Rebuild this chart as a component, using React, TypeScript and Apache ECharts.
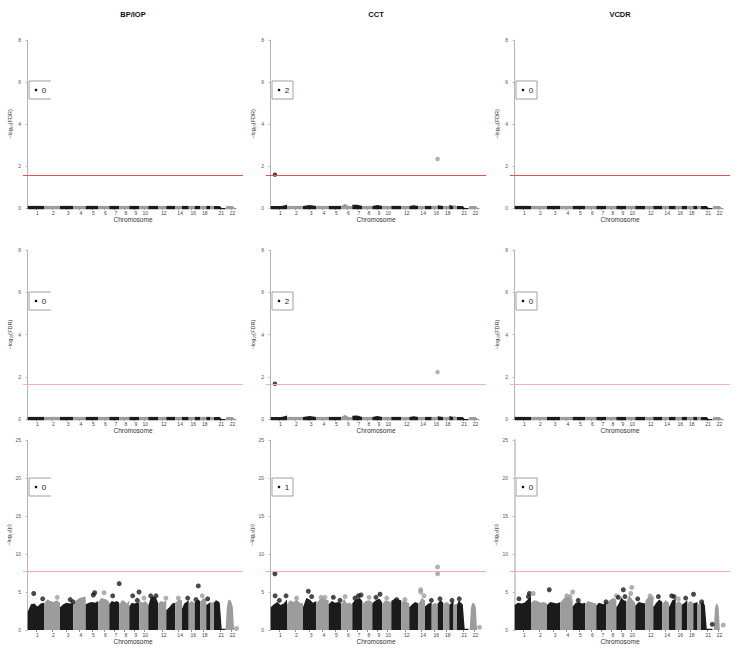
import { useEffect, useRef } from 'react';
import * as echarts from 'echarts';

// ---------------- data ----------------
const traits = ['BP/IOP', 'CCT', 'VCDR'];
const chromosomes = ['1', '2', '3', '4', '5', '6', '7', '8', '9', '10', '11', '12', '13', '14', '15', '16', '17', '18', '19', '20', '21', '22'];
// relative width of each chromosome on the genome axis
const chrSpan = [16.3, 16, 13.3, 12.4, 12.6, 11, 10, 10, 10, 9, 10, 8, 9, 6.7, 6.7, 6, 5.6, 6, 4.2, 3.5, 11.5, 11];
const labelledChromosomes = ['1', '2', '3', '4', '5', '6', '7', '8', '9', '10', '12', '14', '16', '18', '21', '22'];

const rowMeasures = ['FDR', 'FDR', 'p'];
const rowMax = [8, 8, 25];
const rowInterval = [2, 2, 5];
const thresholds = [1.56, 1.66, 7.7];

// top profile of the dense cloud of points, per chromosome (-log10 values)
const flatFdrBand: number[][] = [
  [0.1, 0.1], [0.1, 0.1], [0.1, 0.1], [0.1, 0.1], [0.1, 0.1], [0.1, 0.1], [0.1, 0.1], [0.1, 0.1],
  [0.1, 0.1], [0.1, 0.1], [0.1, 0.1], [0.1, 0.1], [0.1, 0.1], [0.1, 0.1], [0.1, 0.1], [0.1, 0.1],
  [0.1, 0.1], [0.1, 0.1], [0.1, 0.1], [0.1, 0.1],
  [0.1, 0.1, 0.1, 0.1, 0, 0, 0],
  [0, 0.1, 0.1, 0.1, 0.1, 0.1, 0.1, 0.02, 0, 0],
];
const cctFdrBand: number[][] = [
  [0.1, 0.1, 0.1, 0.16], [0.1, 0.1], [0.1, 0.14, 0.1], [0.1, 0.1], [0.1, 0.1], [0.1, 0.2, 0.1, 0.1],
  [0.15, 0.16, 0.1], [0.1, 0.1], [0.1, 0.14, 0.1], [0.1, 0.1], [0.1, 0.1], [0.1, 0.1], [0.1, 0.13, 0.1],
  [0.1, 0.1], [0.1, 0.1], [0.1, 0.1], [0.13, 0.1], [0.1, 0.1], [0.14, 0.1], [0.14, 0.1],
  [0.1, 0.1, 0.1, 0.1, 0, 0, 0],
  [0, 0.1, 0.1, 0.1, 0.1, 0.1, 0.1, 0.02, 0, 0],
];

const bpIopGwasProfile: number[][] = [
  [2.4, 3.4, 3.5, 3.1, 3.5, 3.6], [3.5, 4.0, 3.8, 3.7, 3.9, 3.6], [3.0, 3.4, 3.6, 3.5, 3.6],
  [3.3, 3.9, 4.2, 4.3, 4.4], [3.4, 3.6, 3.7, 3.6, 3.8], [3.6, 4.2, 4.1, 4.0, 3.7],
  [3.4, 3.8, 3.7, 3.8, 3.6], [3.3, 3.9, 3.8, 3.5, 3.9], [3.1, 3.6, 3.5, 3.6, 3.6],
  [3.9, 3.6, 3.8, 3.4], [3.2, 4.3, 4.4, 4.3, 3.5], [3.5, 3.8, 3.7, 3.9], [2.6, 3.0, 3.5, 3.6],
  [3.6, 4.0, 3.9], [2.8, 3.5, 3.7, 3.9], [3.5, 3.8, 3.6], [3.6, 4.0, 3.8], [3.7, 4.2, 4.0],
  [3.3, 3.7], [3.6, 3.7],
  [3.6, 3.9, 3.8, 3.6, 0.15, 0.15, 0.15],
  [0, 2.8, 3.8, 4.0, 3.9, 3.6, 3.0, 0, 0, 0],
];
const cctGwasProfile: number[][] = [
  [3.0, 3.4, 3.7, 3.3, 3.5, 4.0], [3.4, 3.9, 3.7, 4.0, 3.6, 3.5], [3.0, 4.2, 4.0, 3.6, 3.8],
  [3.5, 4.0, 4.2, 4.0, 3.9], [3.4, 3.8, 3.6, 3.7, 3.5], [3.3, 4.1, 3.5, 3.6, 3.4],
  [3.5, 3.9, 4.1, 4.2, 3.8], [3.4, 3.8, 3.9, 3.7], [3.5, 3.8, 4.0, 4.1, 3.6],
  [3.4, 3.9, 3.8, 3.6], [3.8, 4.1, 4.0, 3.9], [3.6, 3.9, 3.7, 3.5], [3.0, 3.4, 3.7, 3.5],
  [3.4, 4.2, 3.9], [3.1, 3.5, 3.6], [3.3, 3.6, 3.4], [3.5, 3.9, 3.6], [3.4, 3.7, 3.5],
  [3.3, 3.8], [3.3, 3.5],
  [3.3, 3.9, 3.6, 3.4, 0.15, 0.15, 0.15],
  [0, 0, 3.0, 3.5, 3.6, 3.4, 3.0, 0, 0, 0],
];
const vcdrGwasProfile: number[][] = [
  [3.3, 3.6, 3.5, 3.6, 4.0, 4.5], [3.6, 3.9, 3.8, 3.6, 3.7, 3.5], [3.3, 3.7, 3.6, 3.5, 3.7],
  [3.6, 4.1, 4.4, 4.3, 4.0], [3.1, 3.6, 3.7, 3.5, 3.6], [3.4, 3.8, 3.7, 3.6, 3.5],
  [3.2, 3.6, 3.5, 3.4, 3.7], [3.5, 3.9, 4.2, 4.0], [3.0, 3.5, 4.3, 3.9, 3.8],
  [3.7, 4.6, 4.0, 3.6], [3.2, 3.7, 3.6, 3.5], [3.8, 4.3, 4.4, 4.0], [3.0, 3.6, 4.0, 3.7],
  [3.4, 3.9, 3.6], [3.0, 3.9, 4.1], [3.5, 3.8, 3.5], [3.3, 3.6, 3.9], [3.5, 3.8, 3.6],
  [3.5, 3.7], [3.4, 3.6],
  [3.5, 3.7, 3.3, 0.15, 0.15, 0.15, 0.15],
  [0, 0, 2.8, 3.5, 3.4, 3.0, 0, 0, 0, 0],
];

// individual highlighted points: [chromosome, position within chromosome (0-1), -log10 value]
const cctFdrHitsRow1 = [[1, 0.26, 1.59], [16, 0.98, 2.33]];
const cctFdrHitsRow2 = [[1, 0.26, 1.67], [16, 0.98, 2.22]];
const bpIopGwasHits = [
  [1, 0.37, 4.8], [1, 0.92, 4.1], [2, 0.83, 4.3], [3, 0.77, 4.0], [3, 0.98, 3.7], [5, 0.6, 4.6],
  [5, 0.71, 4.9], [6, 0.52, 4.9], [7, 0.34, 4.5], [7, 0.99, 6.1], [9, 0.34, 4.5], [9, 0.8, 3.9],
  [9, 0.97, 5.0], [10, 0.52, 4.2], [11, 0.24, 4.5], [11, 0.77, 4.5], [12, 0.95, 4.2], [14, 0.45, 4.2],
  [15, 0.85, 4.2], [17, 0.23, 4.0], [17, 0.64, 5.8], [18, 0.33, 4.5], [19, 0.33, 4.1], [22, 1.0, 0.2],
];
const cctGwasHits = [
  [1, 0.26, 7.4], [1, 0.27, 4.5], [1, 0.53, 3.9], [1, 0.94, 4.5], [2, 0.6, 4.2], [3, 0.4, 5.1],
  [3, 0.65, 4.4], [4, 0.38, 4.3], [4, 0.7, 4.3], [5, 0.37, 4.3], [5, 0.9, 3.9], [6, 0.34, 4.4],
  [7, 0.27, 4.2], [7, 0.6, 4.5], [7, 0.87, 4.6], [8, 0.67, 4.3], [9, 0.37, 4.3], [9, 0.77, 4.7],
  [10, 0.49, 4.2], [11, 0.54, 4.0], [12, 0.46, 4.0], [14, 0.36, 5.3], [14, 0.36, 5.0], [14, 0.85, 4.5],
  [15, 0.95, 3.9], [16, 0.98, 8.3], [16, 0.98, 7.4], [17, 0.41, 4.1], [19, 0.64, 3.9], [21, 0.2, 4.1],
  [22, 1.0, 0.35],
];
const vcdrGwasHits = [
  [1, 0.26, 4.1], [1, 0.84, 4.4], [1, 0.9, 4.8], [2, 0.14, 4.8], [3, 0.17, 5.3], [4, 0.52, 4.5],
  [4, 0.79, 4.4], [4, 1.0, 5.0], [5, 0.44, 3.9], [7, 0.97, 3.7], [8, 1.0, 4.5], [9, 0.2, 4.3],
  [9, 0.7, 5.3], [9, 0.87, 4.4], [10, 0.49, 4.8], [10, 0.6, 5.6], [11, 0.24, 4.1], [12, 0.59, 4.5],
  [12, 0.8, 4.2], [13, 0.56, 4.4], [15, 0.4, 4.5], [15, 0.75, 4.4], [16, 0.43, 4.1], [17, 0.71, 4.2],
  [19, 0.05, 4.7], [21, 0.06, 3.7], [21, 0.98, 0.75], [22, 0.98, 0.65],
];

// number shown in each panel's legend box, [row1, row2, row3]
const bpIopCounts = ['0', '0', '0'];
const cctCounts = ['2', '2', '1'];
const vcdrCounts = ['0', '0', '0'];

// ---------------- layout / style ----------------
const FONT = 'Liberation Sans, Arial, sans-serif';
const DARK = '#1b1b1b';
const GREY = '#9c9c9c';
const colLeft = [23, 266, 510];
const plotWidth = 220;
const rowTop = [40, 250, 440];
const rowHeight = [168, 169, 190];
const legendOffset = [41, 42, 38];
const thresholdColor = ['#e25252', '#f5b0b4', '#f3adb3'];

export default function App() {
  const ref = useRef<HTMLDivElement>(null);

  useEffect(() => {
    const chart = echarts.init(ref.current!, null, { renderer: 'svg' });

    const cumStart: number[] = [];
    let acc = 0;
    chrSpan.forEach((w) => {
      cumStart.push(acc);
      acc += w;
    });
    const centers = labelledChromosomes.map((c) => {
      const i = chromosomes.indexOf(c);
      return +(cumStart[i] + chrSpan[i] / 2).toFixed(3);
    });
    const labelFor = (v: number) => {
      const k = centers.findIndex((c) => Math.abs(c - v) < 1e-3);
      return k >= 0 ? labelledChromosomes[k] : '';
    };

    const profiles = [
      [flatFdrBand, cctFdrBand, flatFdrBand],
      [flatFdrBand, cctFdrBand, flatFdrBand],
      [bpIopGwasProfile, cctGwasProfile, vcdrGwasProfile],
    ];
    const hits = [
      [[], cctFdrHitsRow1, []],
      [[], cctFdrHitsRow2, []],
      [bpIopGwasHits, cctGwasHits, vcdrGwasHits],
    ];
    const counts = [bpIopCounts, cctCounts, vcdrCounts];

    const grids: any[] = [];
    const xAxes: any[] = [];
    const yAxes: any[] = [];
    const series: any[] = [];
    const graphics: any[] = [];

    for (let r = 0; r < 3; r++) {
      for (let c = 0; c < 3; c++) {
        const idx = r * 3 + c;
        const prof = profiles[r][c];
        const base = r < 2 ? -0.06 : 0;
        grids.push({ left: colLeft[c], top: rowTop[r], width: plotWidth, height: rowHeight[r] });
        xAxes.push({
          gridIndex: idx,
          type: 'value',
          min: -4.7,
          max: 215.3,
          axisLine: { show: false },
          splitLine: { show: false },
          axisTick: { show: true, length: 2, customValues: centers, lineStyle: { color: '#777', width: 0.8 } },
          axisLabel: {
            customValues: centers,
            formatter: (v: number) => labelFor(v),
            fontSize: 5,
            color: '#444',
            margin: 2,
            padding: [0, 0, 0, 3],
            fontFamily: FONT,
          },
          name: 'Chromosome',
          nameLocation: 'middle',
          nameGap: 7,
          nameTextStyle: { fontSize: 6.5, color: '#333', fontFamily: FONT },
        });
        yAxes.push({
          gridIndex: idx,
          type: 'value',
          min: 0,
          max: rowMax[r],
          interval: rowInterval[r],
          splitLine: { show: false },
          axisLine: {
            show: true,
            lineStyle: { color: r === 2 && c === 2 ? '#cfcfcf' : '#b5b5b5', width: r === 2 && c === 2 ? 2 : 1 },
          },
          axisTick: { show: true, length: 2, lineStyle: { color: '#b5b5b5' } },
          axisLabel: { fontSize: 5, color: '#555', margin: 2, fontFamily: FONT },
          name: '−log₁₀(' + rowMeasures[r] + ')',
          nameLocation: 'middle',
          nameGap: 10,
          nameRotate: 90,
          nameTextStyle: { fontSize: 5.5, color: '#333', fontFamily: FONT },
        });

        series.push({
          type: 'custom',
          xAxisIndex: idx,
          yAxisIndex: idx,
          silent: true,
          data: chromosomes.map((_, i) => [cumStart[i], cumStart[i] + chrSpan[i], Math.max(...prof[i])]),
          encode: { x: [0, 1], y: 2 },
          renderItem: (params: any, api: any) => {
            const i = params.dataIndex;
            const start = cumStart[i];
            const w = chrSpan[i];
            const p = prof[i];
            const n = p.length;
            const pts: number[][] = [api.coord([start, base])];
            for (let k = 0; k < n; k++) {
              const x = start + (n === 1 ? 0.5 : k / (n - 1)) * w;
              pts.push(api.coord([x, Math.max(p[k], base)]));
            }
            pts.push(api.coord([start + w, base]));
            return {
              type: 'polygon',
              shape: { points: pts },
              style: { fill: i % 2 === 0 ? DARK : GREY },
            };
          },
        });

        series.push({
          type: 'scatter',
          xAxisIndex: idx,
          yAxisIndex: idx,
          silent: true,
          symbolSize: r < 2 ? 4.5 : 5,
          data: (hits[r][c] as number[][]).map(([chr, frac, v]) => ({
            value: [cumStart[chr - 1] + frac * chrSpan[chr - 1], v],
            itemStyle: { color: chr % 2 === 1 ? DARK : GREY },
          })),
          markLine: {
            silent: true,
            symbol: ['none', 'none'],
            label: { show: false },
            lineStyle: { color: thresholdColor[r], width: 1, type: 'solid' },
            data: [{ yAxis: thresholds[r] }],
          },
        });

        // legend box
        const lx = colLeft[c] + 6;
        const ly = rowTop[r] + legendOffset[r];
        if (c === 0) {
          graphics.push({
            type: 'polyline',
            shape: { points: [[lx + 22, ly], [lx, ly], [lx, ly + 18], [lx + 22, ly + 18]] },
            style: { stroke: '#a0a0a0', lineWidth: 1, fill: 'none' },
          });
        } else {
          graphics.push({
            type: 'rect',
            shape: { x: lx, y: ly, width: 21, height: 18 },
            style: { stroke: '#a0a0a0', lineWidth: 1, fill: '#fff' },
          });
        }
        graphics.push({ type: 'circle', shape: { cx: lx + 7, cy: ly + 9, r: 1.3 }, style: { fill: '#111' } });
        graphics.push({
          type: 'text',
          x: lx + 15,
          y: ly + 9,
          style: {
            text: counts[c][r],
            fontSize: 8,
            fill: '#222',
            fontFamily: FONT,
            align: 'center',
            verticalAlign: 'middle',
          },
        });
      }
    }

    traits.forEach((t, c) => {
      graphics.push({
        type: 'text',
        x: colLeft[c] + plotWidth / 2,
        y: 14,
        style: {
          text: t,
          fontSize: 7.5,
          fontWeight: 'bold',
          fill: '#111',
          fontFamily: FONT,
          align: 'center',
          verticalAlign: 'middle',
        },
      });
    });

    chart.setOption({
      animation: false,
      backgroundColor: '#ffffff',
      grid: grids,
      xAxis: xAxes,
      yAxis: yAxes,
      series,
      graphic: graphics,
    });

    return () => chart.dispose();
  }, []);

  return <div ref={ref} style={{ position: 'absolute', left: 0, top: 0, width: 747, height: 654 }} />;
}
